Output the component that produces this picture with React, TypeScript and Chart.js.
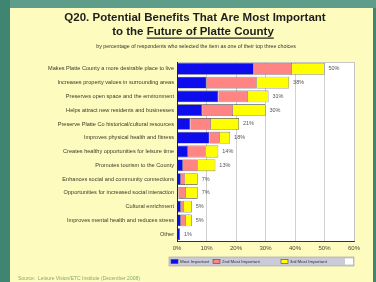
import React, { useEffect, useRef } from "react";
import { Chart, registerables } from "chart.js";

Chart.register(...registerables);

const categories = [
  "Makes Platte County a more desirable place to live",
  "Increases property values in surrounding areas",
  "Preserves open space and the environment",
  "Helps attract new residents and businesses",
  "Preserve Platte Co historical/cultural resources",
  "Improves physical health and fitness",
  "Creates healthy opportunities for leisure time",
  "Promotes tourism to the County",
  "Enhances social and community connections",
  "Opportunities for increased social interaction",
  "Cultural enrichment",
  "Improves mental health and reduces stress",
  "Other",
];
const mostImportant = [26, 10, 14, 8.5, 4.5, 11, 3.7, 2, 1.3, 0.5, 1.3, 1.3, 1];
const secondMost = [13, 17, 10, 10.5, 7, 3.5, 6, 5, 1.5, 2.5, 1, 1.7, 0];
const thirdMost = [11, 11, 7, 11, 9.5, 3.5, 4.3, 6, 4.2, 4, 2.7, 2, 0];
const totalLabels = ["50%", "38%", "31%", "30%", "21%", "18%", "14%", "13%", "7%", "7%", "5%", "5%", "1%"];
const seriesNames = ["Most Important", "2nd Most Important", "3rd Most Important"];
const xTicks = [0, 10, 20, 30, 40, 50, 60];

const FONT = '"Liberation Sans", Arial, sans-serif';
const COLORS = ["#0c0ced", "#ff8484", "#ffff00"];

const framePlugin = {
  id: "frame",
  beforeDraw(chart: any) {
    const ctx = chart.ctx;
    const { chartArea } = chart;
    ctx.save();
    // green frame
    ctx.fillStyle = "#3f8572";
    ctx.fillRect(0, 0, 376, 282);
    ctx.fillStyle = "#5f9d8b";
    ctx.fillRect(10, 0, 366, 8);
    // yellow panel
    ctx.fillStyle = "#fdfbbd";
    ctx.fillRect(10, 8, 363, 274);
    // plot area
    ctx.fillStyle = "#ffffff";
    ctx.fillRect(chartArea.left, chartArea.top, chartArea.right - chartArea.left, chartArea.bottom - chartArea.top);
    ctx.strokeStyle = "#c8c8c8";
    ctx.lineWidth = 1;
    ctx.strokeRect(chartArea.left + 0.5, chartArea.top + 0.5, chartArea.right - chartArea.left, chartArea.bottom - chartArea.top);

    // title
    ctx.fillStyle = "#1e1e1e";
    ctx.textBaseline = "middle";
    ctx.textAlign = "center";
    ctx.font = `bold 11.5px ${FONT}`;
    ctx.fillText("Q20. Potential Benefits That Are Most Important", 195, 18);
    const pre = "to the ";
    const ul = "Future of Platte County";
    const wPre = ctx.measureText(pre).width;
    const wUl = ctx.measureText(ul).width;
    const startX = 193 - (wPre + wUl) / 2;
    ctx.textAlign = "left";
    ctx.fillText(pre, startX, 32);
    ctx.fillText(ul, startX + wPre, 32);
    ctx.fillRect(startX + wPre, 37.5, wUl, 1.2);

    // subtitle
    ctx.textAlign = "center";
    ctx.font = `5.3px ${FONT}`;
    ctx.fillStyle = "#333";
    ctx.fillText("by percentage of respondents who selected the item as one of their top three choices", 196, 46.5);

    // source
    ctx.textAlign = "left";
    ctx.font = `5px ${FONT}`;
    ctx.fillStyle = "#8aa878";
    ctx.fillText("Source:  Leisure Vision/ETC Institute (December 2008)", 18, 278.5);
    ctx.restore();
  },
  afterDraw(chart: any) {
    const ctx = chart.ctx;
    const xs = chart.scales.x;
    const ys = chart.scales.y;
    ctx.save();
    // totals
    ctx.font = `5.5px ${FONT}`;
    ctx.fillStyle = "#555";
    ctx.textBaseline = "middle";
    ctx.textAlign = "left";
    categories.forEach((_, i) => {
      const sum = mostImportant[i] + secondMost[i] + thirdMost[i];
      ctx.fillText(totalLabels[i], xs.getPixelForValue(sum) + 4, ys.getPixelForValue(i));
    });
    // legend
    ctx.fillStyle = "#cacad8";
    ctx.fillRect(169, 257, 185, 9);
    ctx.strokeStyle = "#a0a0b0";
    ctx.lineWidth = 0.6;
    ctx.strokeRect(169, 257, 185, 9);
    const swX = [171, 213, 281];
    ctx.font = `4.4px ${FONT}`;
    seriesNames.forEach((name, i) => {
      ctx.fillStyle = COLORS[i];
      ctx.fillRect(swX[i], 259.5, 7, 4);
      ctx.strokeStyle = "#444";
      ctx.strokeRect(swX[i], 259.5, 7, 4);
      ctx.fillStyle = "#333";
      ctx.fillText(name, swX[i] + 9, 261.7);
    });
    ctx.fillStyle = "#ffffff";
    ctx.fillRect(345, 258.5, 8, 6);
    ctx.restore();
  },
};

export default function App() {
  const ref = useRef<HTMLCanvasElement>(null);
  useEffect(() => {
    if (!ref.current) return;
    const chart = new Chart(ref.current, {
      type: "bar",
      data: {
        labels: categories,
        datasets: [
          { label: seriesNames[0], data: mostImportant, backgroundColor: COLORS[0] },
          { label: seriesNames[1], data: secondMost, backgroundColor: COLORS[1] },
          { label: seriesNames[2], data: thirdMost, backgroundColor: COLORS[2] },
        ].map((d) => ({ ...d, borderColor: "#3a3a3a", borderWidth: 0.6, barPercentage: 0.9, categoryPercentage: 0.95 })),
      },
      options: {
        indexAxis: "y",
        responsive: false,
        animation: false,
        devicePixelRatio: 1,
        layout: { padding: { left: 12, top: 62, right: 22, bottom: 29 } },
        plugins: { legend: { display: false }, tooltip: { enabled: false }, title: { display: false } },
        scales: {
          x: {
            stacked: true,
            min: 0,
            max: 60,
            afterBuildTicks(scale: any) {
              scale.ticks = xTicks.map((v) => ({ value: v }));
            },
            afterFit(scale: any) {
              scale.height = 12;
            },
            ticks: {
              callback: (v: any) => v + "%",
              font: { family: FONT, size: 6 },
              color: "#4a4a3a",
              padding: 4,
              maxRotation: 0,
              autoSkip: false,
            },
            grid: { color: "#c4c4c4", lineWidth: 0.8, drawTicks: false },
            border: { display: true, color: "#333", width: 1 },
          },
          y: {
            stacked: true,
            afterFit(scale: any) {
              scale.width = 177 - 12;
            },
            ticks: {
              font: { family: FONT, size: 5.6 },
              color: "#3a3a2a",
              padding: 3,
              autoSkip: false,
            },
            grid: { display: false, drawTicks: false },
            border: { display: true, color: "#222", width: 1 },
          },
        },
      },
      plugins: [framePlugin],
    } as any);
    return () => chart.destroy();
  }, []);
  return (
    <div style={{ position: "absolute", left: 0, top: 0, width: 376, height: 282, overflow: "hidden" }}>
      <canvas ref={ref} width={376} height={282} style={{ display: "block" }} />
    </div>
  );
}
